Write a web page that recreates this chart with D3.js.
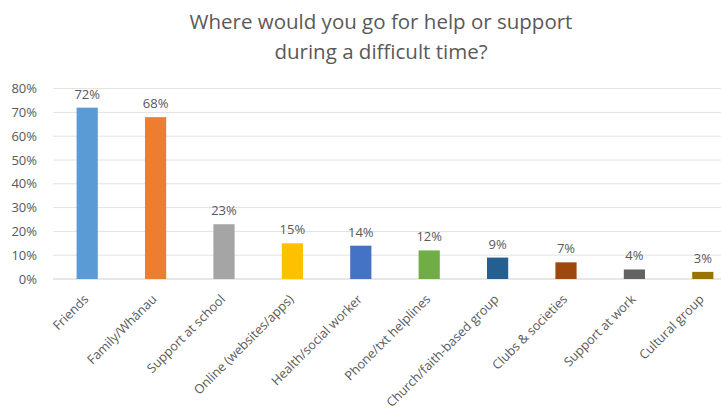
<!DOCTYPE html>
<html>
<head>
<meta charset="utf-8">
<script src="https://cdn.jsdelivr.net/npm/d3@7"></script>
<style>
  html, body { margin: 0; padding: 0; background: #fff; }
  svg { display: block; font-family: "Open Sans", "Liberation Sans", sans-serif; }
</style>
</head>
<body>
<svg id="chart" width="721" height="410"></svg>
<script>
// Survey responses: share of respondents choosing each source of help
const categories = [
  "Friends", "Family/Whānau", "Support at school", "Online (websites/apps)",
  "Health/social worker", "Phone/txt helplines", "Church/faith-based group",
  "Clubs & societies", "Support at work", "Cultural group"
];
const values = [72, 68, 23, 15, 14, 12, 9, 7, 4, 3];
const barColors = [
  "#5B9BD5", "#ED7D31", "#A5A5A5", "#FFC000", "#4472C4",
  "#70AD47", "#255E91", "#9E480E", "#636363", "#997300"
];
const yTicks = [0, 10, 20, 30, 40, 50, 60, 70, 80];
const titleLines = ["Where would you go for help or support", "during a difficult time?"];

const svg = d3.select("#chart");
const textColor = "#595959";
const fontStack = "\"Open Sans\", \"Liberation Sans\", sans-serif";

const x = d3.scaleBand().domain(categories).range([53, 737]).paddingInner(0.69).paddingOuter(0.345);
const y = d3.scaleLinear().domain([0, 80]).range([279, 88.6]);

// Title
svg.append("g").selectAll("text").data(titleLines).join("text")
  .attr("x", 381).attr("y", (d, i) => 29 + i * 30)
  .attr("text-anchor", "middle")
  .attr("fill", textColor)
  .style("font-size", "20.5px")
  .text(d => d);

// Gridlines
svg.append("g").selectAll("line").data(yTicks).join("line")
  .attr("x1", 53).attr("x2", 721)
  .attr("y1", d => y(d)).attr("y2", d => y(d))
  .attr("stroke", d => d === 0 ? "#cfcfcf" : "#e2e2e2")
  .attr("stroke-width", 1);

// Y axis labels
const yAxis = d3.axisLeft(y).tickValues(yTicks).tickFormat(d => d + "%").tickSize(0).tickPadding(0);
const yg = svg.append("g").attr("transform", "translate(37,0)").call(yAxis);
yg.select(".domain").remove();
yg.selectAll("text").attr("fill", textColor).style("font-size", "13px")
  .style("font-family", fontStack);

// Bars
svg.append("g").selectAll("rect").data(values).join("rect")
  .attr("x", (d, i) => x(categories[i]))
  .attr("width", x.bandwidth())
  .attr("y", d => y(d))
  .attr("height", d => y(0) - y(d))
  .attr("fill", (d, i) => barColors[i]);

// Value labels
svg.append("g").selectAll("text").data(values).join("text")
  .attr("x", (d, i) => x(categories[i]) + x.bandwidth() / 2)
  .attr("y", d => y(d) - 9)
  .attr("text-anchor", "middle")
  .attr("fill", textColor)
  .style("font-size", "13px")
  .text(d => d + "%");

// Category labels, rotated
const xAxis = d3.axisBottom(x).tickSize(0).tickPadding(0);
const xg = svg.append("g").attr("transform", "translate(0,279)").call(xAxis);
xg.select(".domain").remove();
xg.selectAll("text")
  .attr("fill", textColor)
  .style("font-size", "12.7px")
  .style("font-family", fontStack)
  .attr("text-anchor", "end")
  .attr("dy", null)
  .attr("x", 0).attr("y", 0)
  .attr("transform", "translate(2,21) rotate(-45)");
</script>
</body>
</html>
